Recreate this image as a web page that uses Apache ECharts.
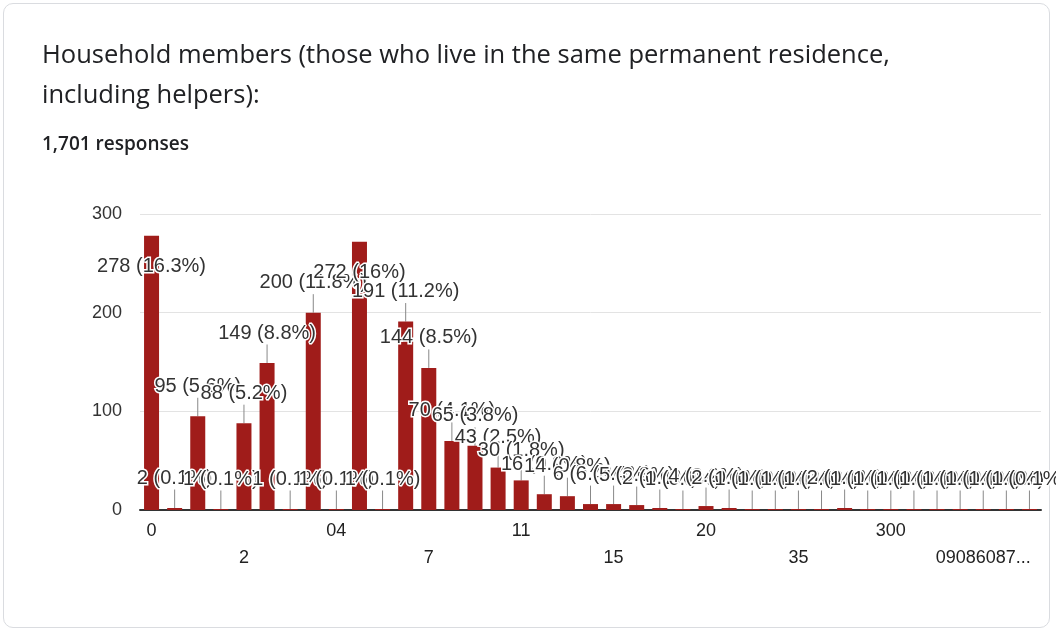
<!DOCTYPE html>
<html><head><meta charset="utf-8">
<script src="https://cdn.jsdelivr.net/npm/echarts@6/dist/echarts.min.js"></script>
<style>
html,body{margin:0;padding:0;background:#fff;width:1056px;height:635px;overflow:hidden}
#card{position:absolute;left:3px;top:3px;width:1047px;height:625px;border:1px solid #dadce0;border-radius:10px;box-sizing:border-box}
#chart{position:absolute;left:0;top:0;width:1056px;height:635px}
</style></head><body>
<div id="card"></div><div id="chart"></div>
<script>
const titleText = 'Household members (those who live in the same permanent residence,\nincluding helpers):';
const responsesText = '1,701 responses';
const totalResponses = 1701;
const categories = ['0','00','1','01','2','3','03','4','04','5','05','6','7','8','9','10','11','12','13','14','15','16','17','18','20','22','25','30','35','40','50','100','300','400','1000','2022','09086087...','N/A','None'];
const counts = [278,2,95,1,88,149,1,200,1,272,1,191,144,70,65,43,30,16,14,6,6,5,2,1,4,2,1,1,1,1,2,1,1,1,1,1,1,1,1];
const yMin = 0, yMax = 300, yInterval = 100;

const insideThreshold = yMax * 0.85;
function pct(v){ return Math.round(v / totalResponses * 1000) / 10; }

const chart = echarts.init(document.getElementById('chart'));
chart.setOption({
  animation: false,
  title: [
    {text: titleText, left: 37, top: 31, textStyle: {fontFamily: 'Open Sans', fontSize: 25.5, fontWeight: 'normal', color: '#202124', lineHeight: 40}},
    {text: responsesText, left: 37, top: 130, textStyle: {fontFamily: 'Open Sans', fontSize: 19, fontWeight: 600, color: '#202124'}}
  ],
  grid: {left: 140, right: 15, top: 214, bottom: 125, containLabel: false},
  xAxis: {
    type: 'category', data: categories,
    axisLine: {lineStyle: {color: '#333', width: 2}},
    axisTick: {show: false},
    axisLabel: {
      interval: 3, margin: 8, fontFamily: 'Liberation Sans', fontSize: 18, color: '#222', lineHeight: 27,
      formatter: (v, i) => (i % 8 === 4 ? '\n' + v : v)
    }
  },
  yAxis: {
    type: 'value', min: yMin, max: yMax, interval: yInterval,
    axisLine: {show: false}, axisTick: {show: false},
    splitLine: {lineStyle: {color: '#e3e3e3', width: 1}},
    axisLabel: {margin: 18, fontFamily: 'Liberation Sans', fontSize: 18, color: '#333'}
  },
  series: [{
    type: 'bar',
    barWidth: 15,
    data: counts.map(v => v > insideThreshold ? {value: v, label: {position: 'insideTop', distance: 21}} : v),
    itemStyle: {color: '#a01c1a'},
    label: {
      show: true, position: 'top', distance: 2,
      fontFamily: 'Liberation Sans', fontSize: 20, color: '#333',
      textBorderColor: '#fff', textBorderWidth: 3,
      formatter: p => p.value + ' (' + pct(p.value) + '%)'
    },
    labelLine: {show: true, lineStyle: {color: '#888', width: 1}},
    labelLayout: p => (counts[p.dataIndex] > insideThreshold ? {} : {dy: -18})
  }]
});
</script>
</body></html>
